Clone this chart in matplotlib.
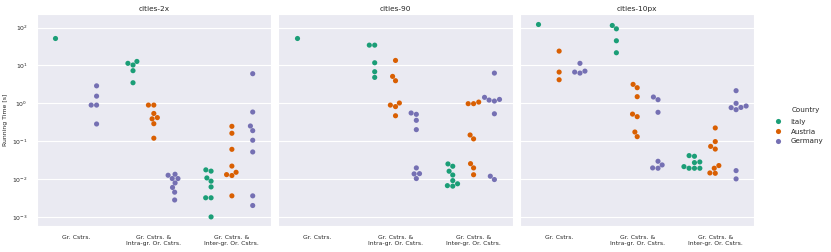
import numpy as np
import matplotlib
matplotlib.use("Agg")
import matplotlib.pyplot as plt
from matplotlib.lines import Line2D
import pandas as pd
import seaborn as sns

datasets = ["cities-2x", "cities-90", "cities-10px"]
constraints = ["Gr. Cstrs.", "Gr. Cstrs. &\nIntra-gr. Or. Cstrs.", "Gr. Cstrs. &\nInter-gr. Or. Cstrs."]
countries = ["Italy", "Austria", "Germany"]
colors = ["#1b9e77", "#d95f02", "#7570b3"]

# running times [s], per dataset -> per constraint -> per country
times_2x = [
    [[54], [], [2.9, 1.55, 0.9, 0.9, 0.285]],
    [[12.8, 11.4, 10.3, 7.3, 3.5],
     [0.9, 0.9, 0.54, 0.42, 0.39, 0.29, 0.12],
     [0.0134, 0.0126, 0.0103, 0.0103, 0.0079, 0.006, 0.0045, 0.0028]],
    [[0.0175, 0.0162, 0.0107, 0.0088, 0.0062, 0.0032, 0.0032, 0.001],
     [0.247, 0.162, 0.061, 0.022, 0.0151, 0.0131, 0.0124, 0.0036],
     [6.07, 0.59, 0.252, 0.19, 0.106, 0.052, 0.0036, 0.002]],
]
times_90 = [
    [[54], [], []],
    [[34.5, 34.5, 11.8, 6.85, 4.85],
     [13.6, 5.15, 3.96, 1.02, 0.9, 0.82, 0.47],
     [0.556, 0.513, 0.356, 0.202, 0.0197, 0.0139, 0.0137, 0.0103]],
    [[0.0251, 0.0218, 0.0161, 0.0128, 0.0091, 0.0075, 0.0067, 0.0065],
     [1.08, 0.98, 0.98, 0.146, 0.115, 0.0255, 0.0197, 0.013],
     [6.3, 1.44, 1.27, 1.22, 1.15, 0.53, 0.0119, 0.0097]],
]
times_10px = [
    [[124], [24, 6.7, 4.2], [11.4, 7.1, 6.7, 6.3]],
    [[114, 93, 45, 21.7],
     [3.17, 2.59, 1.5, 0.52, 0.445, 0.175, 0.132],
     [1.47, 1.25, 0.58, 0.0295, 0.0236, 0.0197, 0.0193]],
    [[0.0416, 0.04, 0.0283, 0.0272, 0.0213, 0.0193, 0.0193, 0.0193],
     [0.224, 0.0977, 0.073, 0.062, 0.0227, 0.0193, 0.0145, 0.0142],
     [2.16, 1.0, 0.85, 0.78, 0.77, 0.68, 0.0167, 0.0101]],
]
all_times = [times_2x, times_90, times_10px]

rows = []
for ds, per_ds in zip(datasets, all_times):
    for cs, per_cs in zip(constraints, per_ds):
        for ct, vals in zip(countries, per_cs):
            for v in vals:
                rows.append((ds, cs, ct, v))
df = pd.DataFrame(rows, columns=["Dataset", "Constraints", "Country", "Time"])

sns.set_style("darkgrid")
fig, axes = plt.subplots(1, 3, figsize=(8.31, 2.52), dpi=100, sharey=True)
fig.subplots_adjust(left=0.0442, right=0.9077, top=0.9444, bottom=0.1032, wspace=0.032)

for ax, ds in zip(axes, datasets):
    ax.set_yscale("log")
    sub = df[df["Dataset"] == ds]
    sns.swarmplot(data=sub, x="Constraints", y="Time", hue="Country",
                  order=constraints, hue_order=countries, palette=colors,
                  dodge=True, size=3.7, linewidth=0, ax=ax, legend=False)
    ax.set_title(ds, fontsize=5.3, pad=2)
    ax.set_xlabel("")
    ax.set_ylabel("")
    ax.tick_params(axis="x", labelsize=4.4, pad=3)
    ax.tick_params(axis="y", labelsize=4.4, pad=3)
    ax.set_xlim(-0.5, 2.5)

axes[0].set_ylim(10 ** -3.24, 10 ** 2.36)
axes[0].set_yticks([1e-3, 1e-2, 1e-1, 1, 10, 100])
axes[0].set_ylabel("Running Time [s]", fontsize=4.4, labelpad=3)

handles = [Line2D([], [], marker="o", ls="", color=c, markersize=3.7, markeredgewidth=0)
           for c in colors]
fig.legend(handles, countries, loc="center left", bbox_to_anchor=(0.920, 0.478),
           frameon=False, fontsize=5.1, labelspacing=0.55, handletextpad=0.8)
fig.text(791.7 / 831, 1 - 110 / 252, "Country", fontsize=5.1, va="center", ha="left")

fig.savefig("out.png", dpi=100)
